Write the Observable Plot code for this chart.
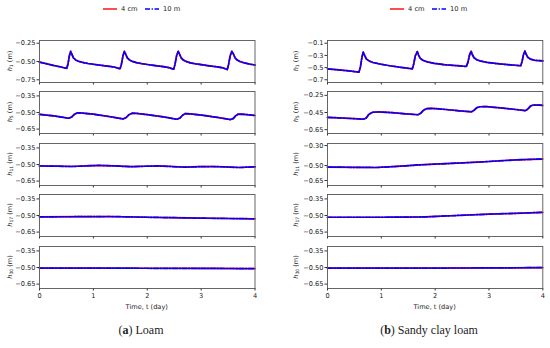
<!DOCTYPE html>
<html><head><meta charset="utf-8">
<script src="https://cdn.jsdelivr.net/npm/d3@7"></script>
<script src="https://cdn.jsdelivr.net/npm/@observablehq/plot@0.6"></script>
<style>
body{margin:0;background:#fff;}
#root{position:relative;width:550px;height:348px;overflow:hidden;font-family:"DejaVu Sans",sans-serif;color:#222;}
.ylab{position:absolute;font-size:6.5px;white-space:nowrap;transform:translate(-50%,-50%) rotate(-90deg);line-height:1;}
.ylab sub{font-size:4.6px;vertical-align:-1.5px;}
.xlab{position:absolute;font-size:6.6px;white-space:nowrap;transform:translate(-50%,-50%);}
.cap{position:absolute;font-family:"Liberation Serif",serif;font-size:12px;white-space:nowrap;transform:translate(-50%,-50%);}
</style></head><body><div id="root"></div>
<script>
// ---------- data ----------
const seriesNames = ["4 cm", "10 m"];
const seriesColors = ["red", "blue"];
const xTicks = [0, 1, 2, 3, 4];
const depthLabels = ["1", "5", "11", "17", "30"];

// (a) Loam
const tL1 = [0,0.1,0.25,0.4,0.505,0.53,0.555,0.578,0.6,0.63,0.67,0.72,0.8,0.9,1.0,1.15,1.3,1.4,1.495,1.52,1.55,1.575,1.6,1.63,1.67,1.72,1.8,1.9,2.0,2.15,2.3,2.4,2.49,2.515,2.545,2.575,2.6,2.63,2.67,2.72,2.8,2.9,3.0,3.15,3.3,3.4,3.485,3.51,3.54,3.57,3.6,3.63,3.67,3.72,3.8,3.9,4.0];
const hL1 = [-0.509,-0.525,-0.552,-0.575,-0.595,-0.53,-0.42,-0.362,-0.40,-0.45,-0.478,-0.496,-0.513,-0.527,-0.538,-0.553,-0.567,-0.579,-0.600,-0.54,-0.42,-0.362,-0.40,-0.45,-0.479,-0.498,-0.516,-0.530,-0.541,-0.557,-0.571,-0.583,-0.605,-0.54,-0.42,-0.362,-0.40,-0.45,-0.480,-0.499,-0.518,-0.532,-0.543,-0.559,-0.574,-0.586,-0.610,-0.54,-0.42,-0.362,-0.40,-0.45,-0.481,-0.500,-0.519,-0.535,-0.548];
const tL5 = [0,0.3,0.54,0.6,0.65,0.71,0.8,1.0,1.3,1.55,1.61,1.66,1.72,1.8,2.0,2.3,2.55,2.61,2.65,2.7,2.8,3.0,3.3,3.55,3.6,3.64,3.69,3.8,4.0];
const hL5 = [-0.517,-0.533,-0.552,-0.54,-0.515,-0.503,-0.505,-0.515,-0.537,-0.558,-0.545,-0.52,-0.506,-0.508,-0.519,-0.540,-0.561,-0.549,-0.527,-0.511,-0.513,-0.523,-0.544,-0.564,-0.553,-0.53,-0.514,-0.517,-0.527];
const tL11 = [0,0.3,0.6,0.85,1.1,1.4,1.7,1.95,2.2,2.45,2.7,2.95,3.2,3.45,3.7,4.0];
const hL11 = [-0.513,-0.515,-0.518,-0.513,-0.508,-0.513,-0.520,-0.516,-0.513,-0.518,-0.524,-0.520,-0.518,-0.522,-0.527,-0.521];
const tL17 = [0,0.7,1.3,2.0,2.5,3.0,3.5,4.0];
const hL17 = [-0.512,-0.511,-0.509,-0.516,-0.520,-0.524,-0.527,-0.530];
const tL30 = [0,1,2,3,4];
const hL30 = [-0.505,-0.505,-0.507,-0.508,-0.510];

// (b) Sandy clay loam
const tS1 = [0,0.2,0.4,0.583,0.61,0.64,0.664,0.69,0.72,0.77,0.845,0.95,1.155,1.35,1.576,1.6,1.63,1.668,1.69,1.72,1.77,1.85,1.98,2.2,2.4,2.58,2.61,2.64,2.668,2.69,2.72,2.77,2.85,3.0,3.2,3.4,3.59,3.615,3.64,3.667,3.69,3.72,3.77,3.85,4.0];
const hS1 = [-0.520,-0.537,-0.555,-0.575,-0.50,-0.33,-0.247,-0.30,-0.356,-0.39,-0.416,-0.437,-0.470,-0.495,-0.520,-0.45,-0.31,-0.236,-0.29,-0.345,-0.38,-0.405,-0.430,-0.455,-0.468,-0.482,-0.41,-0.29,-0.230,-0.285,-0.335,-0.37,-0.395,-0.420,-0.440,-0.455,-0.470,-0.40,-0.29,-0.230,-0.28,-0.33,-0.36,-0.38,-0.390];
const tS5 = [0,0.3,0.67,0.72,0.77,0.84,0.95,1.2,1.45,1.68,1.73,1.78,1.84,1.95,2.2,2.45,2.675,2.72,2.77,2.83,2.95,3.2,3.45,3.68,3.72,3.77,3.83,3.95,4.0];
const hS5 = [-0.507,-0.515,-0.528,-0.515,-0.47,-0.447,-0.443,-0.452,-0.465,-0.476,-0.46,-0.425,-0.405,-0.402,-0.415,-0.430,-0.442,-0.425,-0.395,-0.383,-0.381,-0.395,-0.412,-0.428,-0.41,-0.375,-0.362,-0.365,-0.368];
const tS11 = [0,0.5,0.9,1.2,1.45,1.7,2.0,2.3,2.5,2.8,3.0,3.3,3.5,3.8,4.0];
const hS11 = [-0.516,-0.518,-0.520,-0.512,-0.503,-0.494,-0.486,-0.479,-0.474,-0.466,-0.460,-0.450,-0.444,-0.438,-0.436];
const tS17 = [0,1.0,1.8,2.4,3.0,3.5,4.0];
const hS17 = [-0.516,-0.516,-0.513,-0.500,-0.488,-0.480,-0.472];
const tS30 = [0,2,3,4];
const hS30 = [-0.505,-0.505,-0.504,-0.501];

// y ticks per subplot
const ticksA = [[-0.25,-0.5,-0.75],[-0.35,-0.5,-0.65],[-0.35,-0.5,-0.65],[-0.35,-0.5,-0.65],[-0.35,-0.5,-0.65]];
const ticksB = [[-0.1,-0.3,-0.5,-0.7],[-0.25,-0.45,-0.65],[-0.30,-0.50,-0.65],[-0.35,-0.5,-0.65],[-0.35,-0.5,-0.65]];
const domA = [[-0.787,-0.213],[-0.69,-0.31],[-0.69,-0.31],[-0.69,-0.31],[-0.69,-0.31]];
const domB = [[-0.745,-0.055],[-0.695,-0.205],[-0.70,-0.28],[-0.69,-0.31],[-0.69,-0.31]];
const fmtA = [".2f",".2f",".2f",".2f",".2f"];
const fmtB = [".1f",".2f",".2f",".2f",".2f"];

const panels = [
  {left:0, ml:39, mr:20.5, times:[tL1,tL5,tL11,tL17,tL30], vals:[hL1,hL5,hL11,hL17,hL30], ticks:ticksA, dom:domA, fmt:fmtA, ylabX:10.5, caption:["a","Loam"], capX:141},
  {left:275, ml:52, mr:7.7, times:[tS1,tS5,tS11,tS17,tS30], vals:[hS1,hS5,hS11,hS17,hS30], ticks:ticksB, dom:domB, fmt:fmtB, ylabX:296.5, caption:["b","Sandy clay loam"], capX:429}
];

// ---------- layout ----------
const root = document.getElementById("root");
const plotTop0 = 40, pitch = 51.4, ph = 42;
const dash = "5,1.6,1.3,1.6";

panels.forEach((P) => {
  for (let k = 0; k < 5; k++) {
    const last = k === 4;
    const mt = 3, mb = last ? 14 : 5;
    const data = P.times[k].map((t, i) => ({t, v: P.vals[k][i]}));
    const chart = Plot.plot({
      width: 275, height: ph + mt + mb,
      marginLeft: P.ml, marginRight: P.mr, marginTop: mt, marginBottom: mb,
      x: {domain: [0, 4]},
      y: {domain: P.dom[k]},
      style: {fontSize: "6.6px", fontFamily: "DejaVu Sans", color: "#222", background: "transparent", overflow: "visible"},
      marks: [
        Plot.axisY({ticks: P.ticks[k], tickFormat: d3.format(P.fmt[k]), tickSize: 2.5, tickPadding: 1.5, label: null, stroke: "#333"}),
        Plot.axisX({ticks: xTicks, tickSize: 2.5, tickPadding: 2, tickFormat: last ? d3.format("d") : () => "", label: null, stroke: "#333"}),
        Plot.line(data, {x: "t", y: "v", stroke: seriesColors[0], strokeWidth: 1.7}),
        Plot.line(data, {x: "t", y: "v", stroke: seriesColors[1], strokeWidth: 1.7, strokeDasharray: dash}),
        Plot.frame({stroke: "#555", strokeWidth: 0.9})
      ]
    });
    chart.style.position = "absolute";
    chart.style.left = P.left + "px";
    chart.style.top = (plotTop0 + k * pitch - mt) + "px";
    root.appendChild(chart);

    const yl = document.createElement("div");
    yl.className = "ylab";
    yl.style.left = P.ylabX + "px";
    yl.style.top = (plotTop0 + k * pitch + ph / 2) + "px";
    yl.innerHTML = `<i>h</i><sub>${depthLabels[k]}</sub> (m)`;
    root.appendChild(yl);
  }
  const xl = document.createElement("div");
  xl.className = "xlab";
  xl.style.left = (P.left + P.ml + (275 - P.ml - P.mr) / 2) + "px";
  xl.style.top = "306.5px";
  xl.textContent = "Time, t (day)";
  root.appendChild(xl);
  const cap = document.createElement("div");
  cap.className = "cap";
  cap.style.left = P.capX + "px";
  cap.style.top = "330px";
  cap.innerHTML = `(<b>${P.caption[0]}</b>) ${P.caption[1]}`;
  root.appendChild(cap);
});

// ---------- legends ----------
const legendPos = [{x: 103, y: 9}, {x: 390, y: 9}];
legendPos.forEach(L => {
  const svg = d3.select(root).append("svg")
    .attr("width", 100).attr("height", 16)
    .style("position", "absolute").style("left", L.x + "px").style("top", (L.y - 8) + "px");
  const offsets = [0, 42];
  seriesNames.forEach((name, i) => {
    const g = svg.append("g").attr("transform", `translate(${offsets[i]},8)`);
    g.append("line").attr("x1", 0).attr("x2", 14).attr("y1", 0).attr("y2", 0)
      .attr("stroke", seriesColors[i]).attr("stroke-width", 1.4)
      .attr("stroke-dasharray", i === 1 ? dash : null);
    g.append("text").attr("x", 18).attr("y", 0).attr("dy", "0.35em")
      .attr("font-size", 6.7).attr("font-family", "DejaVu Sans").attr("fill", "#222").text(name);
  });
});
</script>
</body></html>
